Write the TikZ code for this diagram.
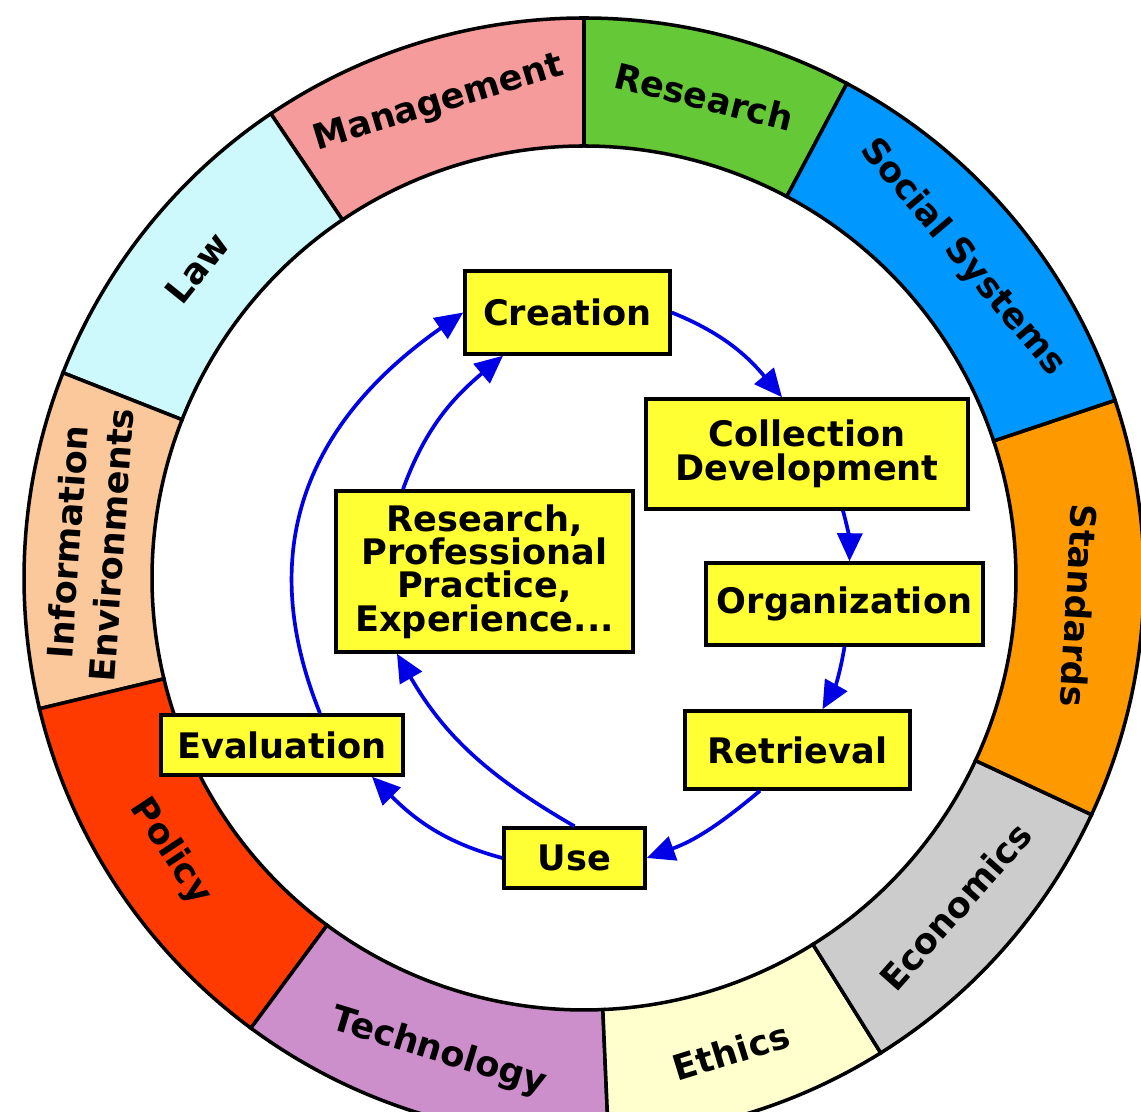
\documentclass[tikz,border=0pt]{standalone}
\usepackage{fontspec}
\setmainfont{DejaVu Sans}
\usepackage{xcolor}
\usepackage{tikz}
\usetikzlibrary{arrows.meta}

\definecolor{resgreen}{RGB}{100,200,55}
\definecolor{mgmtpink}{RGB}{245,155,155}
\definecolor{lawcyan}{RGB}{205,248,252}
\definecolor{envpeach}{RGB}{250,200,155}
\definecolor{policyred}{RGB}{255,58,0}
\definecolor{techlilac}{RGB}{204,143,204}
\definecolor{ethicsyellow}{RGB}{255,255,205}
\definecolor{econgrey}{RGB}{204,204,204}
\definecolor{stdorange}{RGB}{255,153,0}
\definecolor{socblue}{RGB}{0,152,255}
\definecolor{stageyellow}{RGB}{255,255,51}
\definecolor{flowblue}{RGB}{0,0,230}

\tikzset{
  stage/.style={draw=black, line width=2pt, fill=stageyellow, align=center,
    inner sep=0pt, font=\fontsize{20}{19}\selectfont\bfseries},
  flow/.style={draw=flowblue, line width=2.1pt,
    -{Triangle[length=0.56cm,width=0.5cm]}},
  sector/.style={draw=black, line width=2pt},
  fieldlabel/.style={font=\fontsize{20}{25}\selectfont\bfseries, align=center,
    inner sep=0pt}
}

\begin{document}
\begin{tikzpicture}
        \useasboundingbox (-11.68,-10.68) rectangle (11.14,11.56);
        \clip (-11.68,-10.68) rectangle (11.14,11.56);
        \fill[white] (-11.68,-10.68) rectangle (11.14,11.56);
        % outer ring of fields
        \foreach \a/\b/\col/\txt/\turn [count=\i] in {
            62/90/resgreen/Research/-90,
            90/124/mgmtpink/Management/-90,
            124/158.5/lawcyan/Law/-90,
            158.5/193.5/envpeach/{Information\\Environments}/-90,
            193.5/233.5/policyred/Policy/90,
            233.5/272.5/techlilac/Technology/90,
            272.5/302/ethicsyellow/Ethics/90,
            302/335/econgrey/Economics/90,
            335/378.5/stdorange/Standards/-90,
            18.5/62/socblue/{Social Systems}/-90}
        {
            \pgfmathsetmacro{\midang}{(\a+\b)/2}
            \filldraw[sector, fill=\col] (\a:8.64) arc[start angle=\a, end angle=\b, radius=8.64]
                -- (\b:11.2) arc[start angle=\b, end angle=\a, radius=11.2] -- cycle;
            \node[fieldlabel, rotate=\midang+\turn] (field\i) at (\midang:9.92) {\txt};
        }
        % life cycle
        \node[stage, minimum width=4.1cm, minimum height=1.66cm] (creation) at (-0.33,5.31) {Creation};
        \node[stage, minimum width=6.44cm, minimum height=2.2cm] (colldev) at (4.46,2.48) {Collection\\Development};
        \node[stage, minimum width=5.54cm, minimum height=1.64cm] (organization) at (5.21,-0.52) {Organization};
        \node[stage, minimum width=4.5cm, minimum height=1.56cm] (retrieval) at (4.27,-3.44) {Retrieval};
        \node[stage, minimum width=2.82cm, minimum height=1.2cm] (use) at (-0.19,-5.6) {Use};
        \node[stage, minimum width=4.84cm, minimum height=1.2cm] (evaluation) at (-6.04,-3.34) {Evaluation};
        \node[stage, minimum width=5.94cm, minimum height=3.22cm] (practice) at (-1.99,0.13) {Research,\\Professional\\Practice,\\Experience...};
        \draw[flow] (creation.east) to[out=-22, in=130] ([xshift=-0.5cm]colldev.north);
        \draw[flow] ([xshift=0.72cm]colldev.south) to[bend left=8] ([xshift=0.1cm]organization.north);
        \draw[flow] (organization.south) to[bend left=10] ([xshift=0.5cm]retrieval.north);
        \draw[flow] ([xshift=-0.75cm]retrieval.south) to[out=-140, in=20] (use.east);
        \draw[flow] (use.west) to[out=165, in=-45] ([xshift=1.8cm]evaluation.south);
        \draw[flow] (use.north) to[out=150, in=-60] ([xshift=-1.75cm]practice.south);
        \draw[flow] ([xshift=0.76cm]evaluation.north) to[out=112, in=-145, looseness=1.1] (creation.west);
        \draw[flow] ([xshift=-1.63cm]practice.north) to[out=70, in=-140] ([xshift=-1.29cm]creation.south);
    \end{tikzpicture}
\end{document}
